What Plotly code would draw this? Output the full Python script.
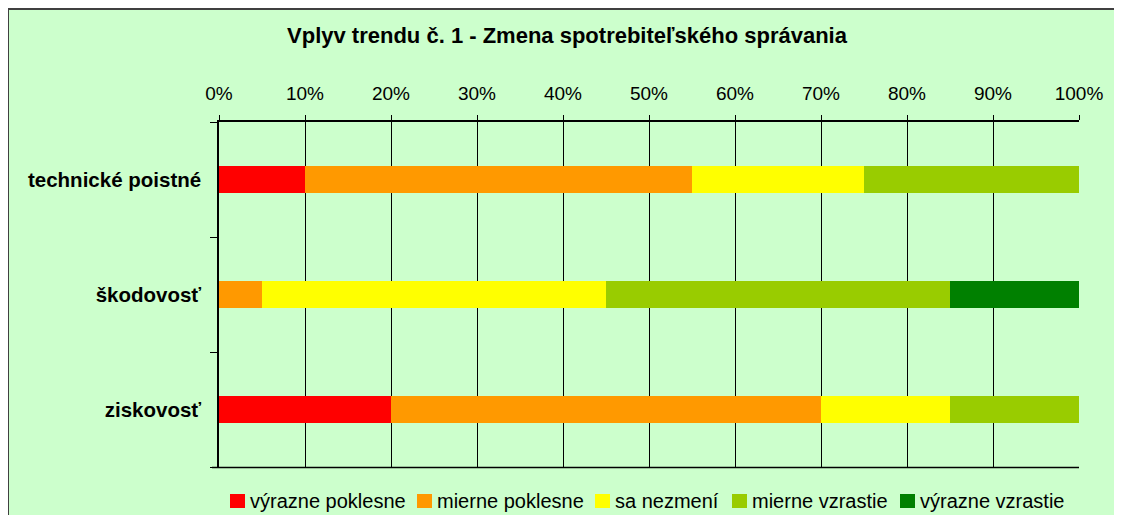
import plotly.graph_objects as go

categories = ["technické poistné", "škodovosť", "ziskovosť"]
series_names = ["výrazne poklesne", "mierne poklesne", "sa nezmení", "mierne vzrastie", "výrazne vzrastie"]
values = {
    "výrazne poklesne": [0.10, 0.00, 0.20],
    "mierne poklesne": [0.45, 0.05, 0.50],
    "sa nezmení": [0.20, 0.40, 0.15],
    "mierne vzrastie": [0.25, 0.40, 0.15],
    "výrazne vzrastie": [0.00, 0.15, 0.00],
}
colors = ["#FF0000", "#FF9900", "#FFFF00", "#99CC00", "#008000"]
tick_vals = [0, 0.1, 0.2, 0.3, 0.4, 0.5, 0.6, 0.7, 0.8, 0.9, 1.0]
tick_text = ["0%", "10%", "20%", "30%", "40%", "50%", "60%", "70%", "80%", "90%", "100%"]

OFF = 8  # page body margin
W, H = 1122 - OFF, 515 - OFF
L, R, T, B = 219 - OFF, 43, 122 - OFF, 48
pw, ph = W - L - R, H - T - B

fig = go.Figure()
for name, c in zip(series_names, colors):
    fig.add_trace(go.Bar(
        y=categories, x=values[name], name=name, orientation="h",
        marker=dict(color=c, line=dict(width=0)), showlegend=False,
    ))

def px_x(p):
    return (p - OFF - L) / pw

def px_y(p):
    return (H - B - (p - OFF)) / ph

# chart area background and border
fig.add_shape(type="rect", xref="paper", yref="paper",
              x0=px_x(8), x1=px_x(1140), y0=px_y(9), y1=px_y(540),
              fillcolor="#CCFFCC", line=dict(color="#404040", width=2), layer="below")
# bottom border of plot area
fig.add_shape(type="line", xref="paper", yref="paper", x0=px_x(212), x1=1, y0=px_y(467.5), y1=px_y(467.5),
              line=dict(color="black", width=1.5), layer="above")

# legend drawn as squares + text, laid out left to right
legend_sq_x = [230, 417, 595, 732, 900]
leg_y = 501
for name, c, sx in zip(series_names, colors, legend_sq_x):
    fig.add_shape(type="rect", xref="paper", yref="paper",
                  x0=px_x(sx), x1=px_x(sx + 15), y0=px_y(leg_y - 7), y1=px_y(leg_y + 7),
                  fillcolor=c, line=dict(width=0))
    fig.add_annotation(x=px_x(sx + 19), y=px_y(leg_y), xref="paper", yref="paper",
                       text=name, showarrow=False, xanchor="left", yanchor="middle",
                       font=dict(size=20, color="black"), borderpad=0)

fig.update_layout(
    width=W, height=H,
    margin=dict(l=L, r=R, t=T, b=B, autoexpand=False),
    barmode="stack", bargap=0.757,
    paper_bgcolor="white", plot_bgcolor="rgba(0,0,0,0)",
    font=dict(family="Liberation Sans, Arial, sans-serif", color="black"),
    title=dict(text="<b>Vplyv trendu č. 1 - Zmena spotrebiteľského správania</b>",
               x=(567 - OFF) / W, xanchor="center", xref="container",
               y=1 - (35 - OFF) / H, yanchor="middle", yref="container",
               font=dict(size=22, color="black")),
    showlegend=False,
)
fig.update_xaxes(
    side="top", range=[0, 1], tickvals=tick_vals, ticktext=tick_text,
    showgrid=True, gridcolor="black", gridwidth=1,
    showline=True, linecolor="black", linewidth=1.5,
    ticks="outside", ticklen=5, tickcolor="black",
    tickfont=dict(size=19), ticklabelstandoff=8, zeroline=False,
)
fig.update_yaxes(
    type="category", categoryorder="array", categoryarray=categories, autorange="reversed",
    showgrid=False, showline=True, linecolor="black", linewidth=1.5,
    ticks="outside", ticklen=7, tickcolor="black", tickson="boundaries",
    tickfont=dict(size=20.5, family="Liberation Sans, Arial, sans-serif"),
    ticklabelstandoff=12,
)
fig.update_yaxes(ticktext=["<b>" + c + "</b>" for c in categories], tickvals=categories)

fig.write_html("out.html")
